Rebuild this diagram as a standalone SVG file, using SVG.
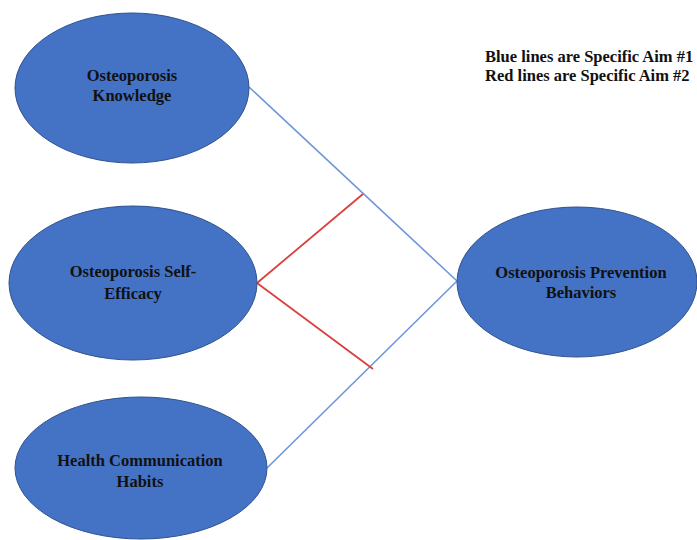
<svg xmlns="http://www.w3.org/2000/svg" width="697" height="540" viewBox="0 0 697 540">
<style>
.node ellipse{fill:#4472C4;stroke:#2F528F;stroke-width:1}
.lbl{font-family:"Liberation Serif",serif;font-weight:bold;font-size:16.5px;fill:#111;text-anchor:middle}
.leg{font-family:"Liberation Serif",serif;font-weight:bold;font-size:16.5px;fill:#111}
.blue{stroke:#6E96DA;stroke-width:1.6;fill:none}
.red{stroke:#D9413F;stroke-width:1.8;fill:none}
</style>
<rect width="697" height="540" fill="#fff"/>
<g id="connectors">
<line class="blue" x1="249" y1="87" x2="457" y2="281"/>
<line class="blue" x1="267" y1="468" x2="457" y2="281"/>
<line class="red" x1="257" y1="283" x2="363" y2="194"/>
<line class="red" x1="257" y1="283" x2="373" y2="369"/>
</g>
<g id="n-knowledge" class="node">
<ellipse cx="132" cy="88" rx="117" ry="75"/>
<text class="lbl" x="132" y="81">Osteoporosis</text>
<text class="lbl" x="132" y="101">Knowledge</text>
</g>
<g id="n-selfefficacy" class="node">
<ellipse cx="133" cy="283" rx="124" ry="77"/>
<text class="lbl" x="133" y="277">Osteoporosis Self-</text>
<text class="lbl" x="133" y="299">Efficacy</text>
</g>
<g id="n-health" class="node">
<ellipse cx="141" cy="468" rx="126" ry="71"/>
<text class="lbl" x="140" y="466">Health Communication</text>
<text class="lbl" x="140" y="487">Habits</text>
</g>
<g id="n-prevention" class="node">
<ellipse cx="577" cy="282" rx="120" ry="75"/>
<text class="lbl" x="581" y="278">Osteoporosis Prevention</text>
<text class="lbl" x="581" y="298">Behaviors</text>
</g>
<g id="legend">
<text class="leg" x="485" y="62">Blue lines are Specific Aim #1</text>
<text class="leg" x="485" y="81">Red lines are Specific Aim #2</text>
</g>
</svg>
